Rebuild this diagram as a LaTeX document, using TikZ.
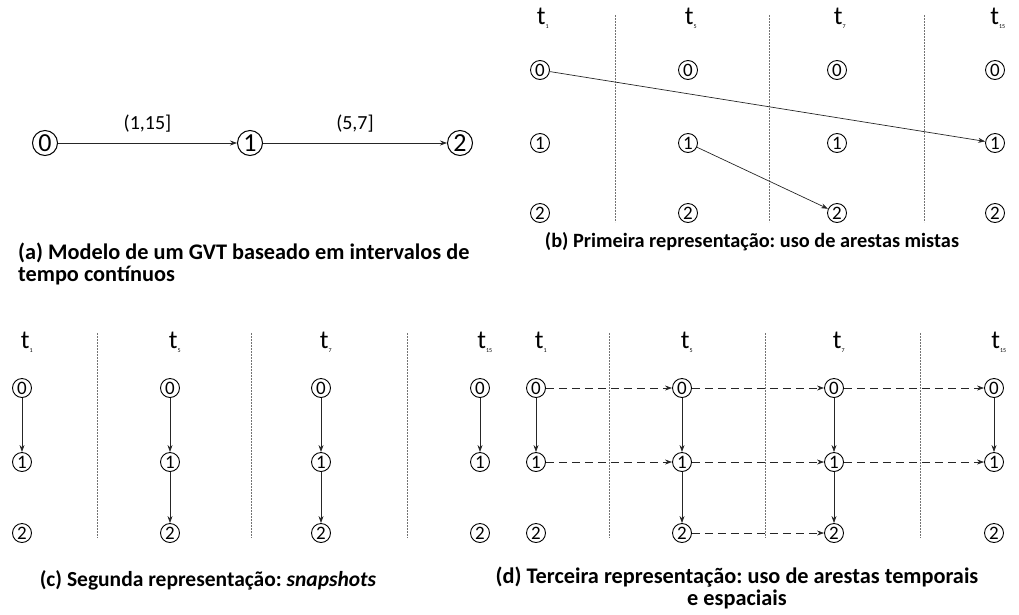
\documentclass[tikz,border=0pt]{standalone}
\usepackage{fontspec}
\setmainfont{Carlito}
\usetikzlibrary{arrows.meta}
\frenchspacing
\begin{document}
\begin{tikzpicture}[x=1pt,y=-1pt,
  vtx/.style={circle,draw,line width=0.9pt,inner sep=0pt,minimum size=19pt,font=\fontsize{19}{19}\selectfont},
  bigvtx/.style={circle,draw,line width=1pt,inner sep=0pt,minimum size=25pt,font=\fontsize{26}{26}\selectfont},
  edge/.style={line width=0.7pt,draw=black!85,-{Stealth[length=7pt,width=5pt]}},
  tedge/.style={edge,dash pattern=on 8pt off 5pt},
  sep/.style={draw=black!55,line width=0.5pt,dash pattern=on 2pt off 1pt},
  thead/.style={font=\fontsize{26}{26}\selectfont,inner sep=0pt},
  elabel/.style={font=\fontsize{20}{20}\selectfont,inner sep=0pt},
  caption/.style={font=\fontsize{21.5}{22}\selectfont\bfseries,inner sep=0pt,align=center}]
\useasboundingbox (0,0) rectangle (1019,614);

% ---- (a) interval model ----
\node[bigvtx] (a0) at (45,143) {0};
\node[bigvtx] (a1) at (250,143) {1};
\node[bigvtx] (a2) at (460,143) {2};
\draw[edge] (a0) -- node[elabel,above=10pt] {(1,15]} (a1);
\draw[edge] (a1) -- node[elabel,above=10pt] {(5,7]} (a2);
\node[caption,font=\fontsize{22.3}{22}\selectfont\bfseries,align=left,anchor=north west] (capa) at (18,243)
  {(a) Modelo de um GVT baseado em intervalos de\\tempo contínuos};

% ---- (b) mixed edges ----
\foreach \c/\x/\lab in {1/540/1,2/688/5,3/837/7,4/995/15}{
  \node[thead] (bt\c) at (\x+3,18) {t\textsubscript{\fontsize{6}{6}\selectfont\lab}};
  \foreach \r/\y in {0/70,1/143,2/213}
    \node[vtx] (b\c\r) at (\x,\y) {\r};
}
\foreach \x in {615,769,924}
  \draw[sep] (\x,15) -- (\x,222);
\draw[edge] (b10) -- (b41);
\draw[edge] (b21) -- (b32);
\node[caption,font=\fontsize{20.3}{22}\selectfont\bfseries] (capb) at (752,242) {(b) Primeira representação: uso de arestas mistas};

% ---- (c) snapshots ----
\foreach \c/\x/\lab in {1/22/1,2/170/5,3/321/7,4/480/15}{
  \node[thead] (ct\c) at (\x+5,342) {t\textsubscript{\fontsize{6}{6}\selectfont\lab}};
  \foreach \r/\y in {0/388,1/462,2/533}
    \node[vtx] (c\c\r) at (\x,\y) {\r};
}
\foreach \x in {97,251,407}
  \draw[sep] (\x,333) -- (\x,538);
\draw[edge] (c10) -- (c11);
\draw[edge] (c20) -- (c21);
\draw[edge] (c21) -- (c22);
\draw[edge] (c30) -- (c31);
\draw[edge] (c31) -- (c32);
\draw[edge] (c40) -- (c41);
\node[caption] (capc) at (208,580) {(c) Segunda representação: \textit{snapshots}};

% ---- (d) temporal and spatial edges ----
\foreach \c/\x/\lab in {1/536/1,2/682/5,3/834/7,4/994/15}{
  \node[thead] (dt\c) at (\x+5,342) {t\textsubscript{\fontsize{6}{6}\selectfont\lab}};
  \foreach \r/\y in {0/388,1/462,2/533}
    \node[vtx] (d\c\r) at (\x,\y) {\r};
}
\foreach \x in {609,765,920}
  \draw[sep] (\x,333) -- (\x,538);
\draw[edge] (d10) -- (d11);
\draw[edge] (d20) -- (d21);
\draw[edge] (d21) -- (d22);
\draw[edge] (d30) -- (d31);
\draw[edge] (d31) -- (d32);
\draw[edge] (d40) -- (d41);
\draw[tedge] (d10) -- (d20);
\draw[tedge] (d20) -- (d30);
\draw[tedge] (d30) -- (d40);
\draw[tedge] (d11) -- (d21);
\draw[tedge] (d21) -- (d31);
\draw[tedge] (d31) -- (d41);
\draw[tedge] (d22) -- (d32);
\node[caption,font=\fontsize{22.3}{22}\selectfont\bfseries] (capd) at (737,588) {(d) Terceira representação: uso de arestas temporais\\e espaciais};
\end{tikzpicture}
\end{document}
